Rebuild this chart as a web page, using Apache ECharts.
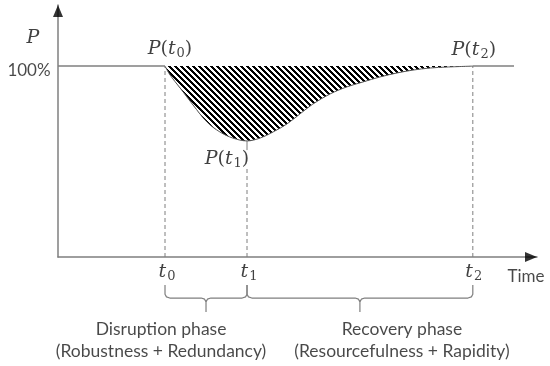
<!DOCTYPE html>
<html><head><meta charset="utf-8">
<script src="https://cdn.jsdelivr.net/npm/echarts@6/dist/echarts.min.js"></script>
<style>html,body{margin:0;padding:0;background:#fff}#c{width:550px;height:366px}</style>
</head><body><div id="c"></div>
<script>
// ---- data ----
var tMarks = [22.34, 39.46, 86.6];          // t0, t1, t2
var baseLevel = 100;                          // 100%
var lineEnd = 95.2;                           // end of the 100% line
var axisMaxX = 100, axisMaxY = 132;
var curveT = [22.34, 23.4, 25.5, 28.2, 31.1, 33.8, 36.5, 39.46, 42.2, 44.9, 47.8, 50.5, 53.2, 56.8, 60.3, 63.7, 67.2, 70.8, 74.1, 77.7, 81.2, 86.6];
var curveP = [100, 95.3, 88.5, 79.6, 70.7, 65.5, 62.3, 60.8, 62.3, 65.5, 69.7, 74.9, 80.1, 85.4, 89.1, 91.7, 94.3, 96.4, 97.9, 99.0, 99.5, 100];
var t1Label = 47;   // where the dashed t1 line stops under the P(t1) label
var braceTop = -14.7, braceMid = -21.5, braceTip = -28.8;
var phaseNames = ['Disruption phase\n(Robustness + Redundancy)', 'Recovery phase\n(Resourcefulness + Rapidity)'];
var axisTitles = ['P', '100%', 'Time'];

// ---- hatch pattern (crisp diagonal stripes) ----
var pc = document.createElement('canvas');
var per = 6;
pc.width = per; pc.height = per;
var g = pc.getContext('2d');
g.fillStyle = '#fff'; g.fillRect(0, 0, per, per);
g.fillStyle = '#000';
for (var yy = 0; yy < per; yy++) {
  for (var xx = 0; xx < per; xx++) {
    if (((xx - yy) % per + per) % per < 3) g.fillRect(xx, yy, 1, 1);
  }
}

var curve = curveT.map(function (t, i) { return [t, curveP[i]]; });
var t0 = tMarks[0], t1 = tMarks[1], t2 = tMarks[2];
var pMin = curveP[curveT.indexOf(t1)];

function brace(a, b) {
  var m = (a + b) / 2;
  return [[a, braceTop], [a, braceMid + 2], [a + 0.3, braceMid + 0.6], [a + 1, braceMid],
    [m - 1, braceMid], [m - 0.3, braceMid - 0.6], [m, braceMid - 2], [m, braceTip],
    [m, braceMid - 2], [m + 0.3, braceMid - 0.6], [m + 1, braceMid],
    [b - 1, braceMid], [b - 0.3, braceMid + 0.6], [b, braceMid + 2], [b, braceTop]];
}

var grey = '#7f7f7f';
var serif = 'DejaVu Serif';
var sans = 'Lato';
var rich = {
  i: { fontFamily: serif, fontStyle: 'italic', fontSize: 19, color: '#111' },
  r: { fontFamily: serif, fontSize: 19, color: '#111' },
  s: { fontFamily: serif, fontSize: 13, color: '#111', padding: [10, 0, 0, 1] }
};
function pt(n) { return '{i|P}{r|(}{i|t}{s|' + n + '}{r|)}'; }
function tt(n) { return '{i|t}{s|' + n + '}'; }
var sansLbl = { fontFamily: sans, fontSize: 17, color: '#1a1a1a' };
function sl(extra) { return Object.assign({}, sansLbl, extra); }

var labels = [
  { value: [t0, baseLevel], label: { formatter: pt(0), offset: [5, -17] } },
  { value: [t1, pMin], label: { formatter: pt(1), offset: [-20, 18] } },
  { value: [t2, baseLevel], label: { formatter: pt(2), offset: [1, -16] } },
  { value: [t0, 0], label: { formatter: tt(0), offset: [2, 15] } },
  { value: [t1, 0], label: { formatter: tt(1), offset: [2, 15] } },
  { value: [t2, 0], label: { formatter: tt(2), offset: [1, 15] } },
  { value: [0, axisMaxY], label: { formatter: '{i|' + axisTitles[0] + '}', offset: [-25, 33] } },
  { value: [0, baseLevel], label: sl({ formatter: axisTitles[1], offset: [-29, 4] }) },
  { value: [axisMaxX, 0], label: sl({ formatter: axisTitles[2], offset: [-11, 20] }) },
  { value: [(t0 + t1) / 2, braceTip], label: sl({ formatter: phaseNames[0], offset: [-45, 28], fontSize: 17.5, lineHeight: 22 }) },
  { value: [(t1 + t2) / 2, braceTip], label: sl({ formatter: phaseNames[1], offset: [42, 28], fontSize: 17.5, lineHeight: 22 }) }
];

var dashed = { color: grey, width: 1, type: [4, 3] };
function seg(data, style, z) {
  return { type: 'line', data: data, showSymbol: false, symbol: 'none', silent: true, clip: false, lineStyle: style, z: z || 2, animation: false };
}

var chart = echarts.init(document.getElementById('c'), null, { renderer: 'canvas' });
chart.setOption({
  animation: false,
  backgroundColor: '#fff',
  grid: { left: 58, right: 13, top: 5, bottom: 109 },
  xAxis: { type: 'value', min: 0, max: axisMaxX, axisLine: { show: true, onZero: false, lineStyle: { color: grey, width: 1.5 } }, axisTick: { show: false }, axisLabel: { show: false }, splitLine: { show: false } },
  yAxis: { type: 'value', min: 0, max: axisMaxY, axisLine: { show: true, onZero: false, lineStyle: { color: grey, width: 1.5 } }, axisTick: { show: false }, axisLabel: { show: false }, splitLine: { show: false } },
  series: [
    {
      type: 'line', data: curve, smooth: 0.35, showSymbol: false, symbol: 'none', silent: true,
      lineStyle: { color: '#555', width: 1 },
      areaStyle: { origin: baseLevel, color: { image: pc, repeat: 'repeat' }, opacity: 1 },
      z: 3
    },
    seg([[0, baseLevel], [t0, baseLevel]], { color: grey, width: 1.5 }),
    seg([[t2, baseLevel], [lineEnd, baseLevel]], { color: grey, width: 1.5 }),
    seg([[t0, 0], [t0, baseLevel]], dashed),
    seg([[t1, 0], [t1, t1Label]], dashed),
    seg([[t1, t1Label + 9], [t1, pMin]], { color: grey, width: 1 }),
    seg([[t2, 0], [t2, baseLevel]], dashed),
    seg(brace(t0, t1), { color: grey, width: 1.2 }),
    seg(brace(t1, t2), { color: grey, width: 1.2 }),
    {
      type: 'scatter', silent: true, clip: false, z: 5,
      data: [
        { value: [0, axisMaxY], symbolRotate: 0, symbolOffset: [0, 6] },
        { value: [axisMaxX, 0], symbolRotate: -90, symbolOffset: [-6, 0] }
      ],
      symbol: 'triangle', symbolSize: [10, 12], itemStyle: { color: '#000' }
    },
    {
      type: 'scatter', silent: true, clip: false, z: 6,
      symbol: 'circle', symbolSize: 1, itemStyle: { color: 'rgba(0,0,0,0)' },
      label: { show: true, position: 'inside', rich: rich, align: 'center', verticalAlign: 'middle' },
      data: labels
    }
  ]
});
</script>
</body></html>
